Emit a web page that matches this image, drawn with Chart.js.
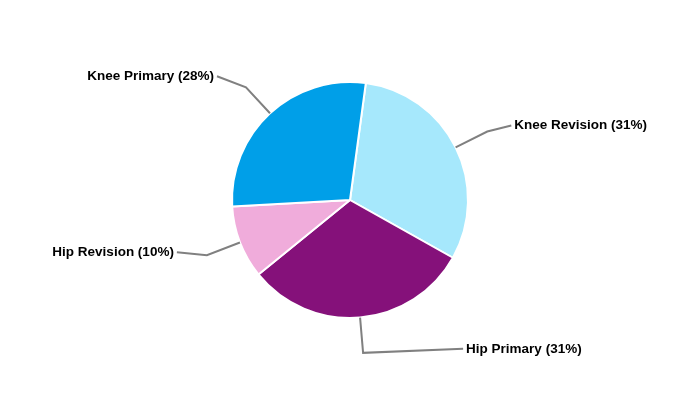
<!DOCTYPE html>
<html>
<head>
<meta charset="utf-8">
<script src="https://cdn.jsdelivr.net/npm/chart.js@4"></script>
<style>
  html, body { margin: 0; padding: 0; background: #fff; }
  #wrap { width: 700px; height: 400px; }
</style>
</head>
<body>
<div id="wrap"><canvas id="myChart"></canvas></div>
<script>
// data
var categories = ['Knee Revision', 'Hip Primary', 'Hip Revision', 'Knee Primary'];
var shares = [31, 31, 10, 28];
var colors = ['#a6e8fc', '#85117a', '#f0acdb', '#009fe8'];

// where each leader line ends, relative to its elbow
var leaderEnds = [[24, -6], [100, -4], [-30, -3], [-29, -11]];

var leaderLabels = {
    id: 'leaderLabels',
    afterDatasetsDraw: function (chart) {
        var ctx = chart.ctx;
        var arcs = chart.getDatasetMeta(0).data;
        ctx.save();
        ctx.strokeStyle = '#808080';
        ctx.lineWidth = 2;
        ctx.fillStyle = '#000';
        ctx.font = 'bold 13.5px "Liberation Sans", Arial, sans-serif';
        ctx.textBaseline = 'middle';
        arcs.forEach(function (arc, i) {
            var p = arc.getProps(['x', 'y', 'startAngle', 'endAngle', 'outerRadius'], true);
            var mid = (p.startAngle + p.endAngle) / 2;
            var r = p.outerRadius;
            var x1 = p.x + Math.cos(mid) * r, y1 = p.y + Math.sin(mid) * r;
            var x2 = p.x + Math.cos(mid) * r * 1.3, y2 = p.y + Math.sin(mid) * r * 1.3;
            var x3 = x2 + leaderEnds[i][0], y3 = y2 + leaderEnds[i][1];
            ctx.beginPath();
            ctx.moveTo(x1, y1);
            ctx.lineTo(x2, y2);
            ctx.lineTo(x3, y3);
            ctx.stroke();
            var right = leaderEnds[i][0] > 0;
            ctx.textAlign = right ? 'left' : 'right';
            ctx.fillText(categories[i] + ' (' + shares[i] + '%)', x3 + (right ? 3 : -3), y3);
        });
        ctx.restore();
    }
};

var ctx = document.getElementById('myChart').getContext('2d');
var chart = new Chart(ctx, {
    type: 'pie',
    data: {
        labels: categories,
        datasets: [{
            data: shares,
            backgroundColor: colors,
            borderColor: '#fff',
            borderWidth: 2
        }]
    },
    options: {
        responsive: true,
        maintainAspectRatio: false,
        animation: false,
        rotation: 7.7,
        layout: { padding: { top: 81, bottom: 81 } },
        plugins: {
            legend: { display: false },
            tooltip: { enabled: false }
        }
    },
    plugins: [leaderLabels]
});
</script>
</body>
</html>
